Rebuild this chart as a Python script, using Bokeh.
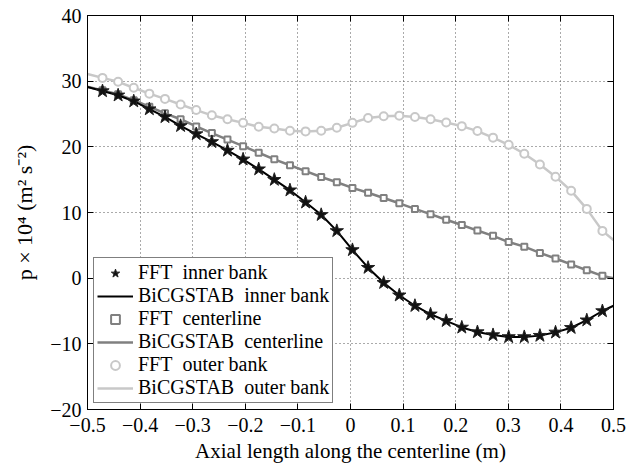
from bokeh.plotting import figure
from bokeh.models import LinearAxis, Range1d, FixedTicker, Legend, LegendItem
from bokeh.embed import file_html
from bokeh.resources import INLINE

# ---- data ----
x_fft = [-0.4715, -0.4418, -0.4121, -0.3824, -0.3527, -0.3230, -0.2933, -0.2636,
         -0.2339, -0.2042, -0.1745, -0.1448, -0.1151, -0.0854, -0.0557, -0.0260,
         0.0037, 0.0334, 0.0631, 0.0928, 0.1225, 0.1522, 0.1819, 0.2116,
         0.2413, 0.2710, 0.3007, 0.3304, 0.3601, 0.3898, 0.4195, 0.4492, 0.4789]

fft_inner = [28.5, 27.85, 26.95, 25.75, 24.55, 23.2, 21.95, 20.75, 19.45, 18.1,
             16.6, 15.0, 13.4, 11.55, 9.65, 7.2, 4.3, 1.6, -0.7, -2.6, -4.2,
             -5.5, -6.5, -7.5, -8.2, -8.65, -8.95, -8.95, -8.75, -8.25, -7.55,
             -6.4, -5.0]
fft_center = [28.6, 28.0, 27.1, 26.1, 25.1, 24.2, 23.1, 22.1, 21.1, 20.1, 19.1,
              18.1, 17.2, 16.3, 15.4, 14.6, 13.75, 13.0, 12.2, 11.4, 10.55, 9.75,
              8.9, 8.1, 7.25, 6.45, 5.5, 4.8, 3.85, 3.0, 2.1, 1.2, 0.35]
fft_outer = [30.5, 29.9, 29.0, 28.1, 27.3, 26.45, 25.6, 24.8, 24.2, 23.65, 23.05,
             22.8, 22.45, 22.35, 22.45, 22.9, 23.65, 24.4, 24.65, 24.75, 24.55,
             24.2, 23.7, 23.15, 22.4, 21.4, 20.3, 18.95, 17.3, 15.45, 13.3,
             10.55, 7.2]

x_bic = [-0.5] + x_fft + [0.5]
bic_inner = [29.1] + fft_inner + [-4.2]
bic_center = [29.15] + fft_center + [0.0]
bic_outer = [31.1] + fft_outer + [5.8]

x_ticks = [-0.5, -0.4, -0.3, -0.2, -0.1, 0.0, 0.1, 0.2, 0.3, 0.4, 0.5]
x_tick_labels = ["\u22120.5", "\u22120.4", "\u22120.3", "\u22120.2", "\u22120.1", "0",
                 "0.1", "0.2", "0.3", "0.4", "0.5"]
y_ticks = [-20, -10, 0, 10, 20, 30, 40]
y_tick_labels = ["\u221220", "\u221210", "0", "10", "20", "30", "40"]

x_label = "Axial length along the centerline (m)"
y_label = "p \u00d7 10\u2074 (m\u00b2 s\u207b\u00b2)"
legend_labels = ["FFT\u00a0 inner bank", "BiCGSTAB\u00a0 inner bank",
                 "FFT\u00a0 centerline", "BiCGSTAB\u00a0 centerline",
                 "FFT\u00a0 outer bank", "BiCGSTAB\u00a0 outer bank"]

FONT = "Liberation Serif"
C_INNER = "#000000"
C_CENTER = "#808080"
C_OUTER = "#c8c8c8"

p = figure(width=626, height=468, x_range=Range1d(-0.5, 0.5),
           y_range=Range1d(-20, 40), output_backend="svg",
           toolbar_location=None, min_border_left=87, min_border_right=13,
           min_border_top=15, min_border_bottom=59)
p.background_fill_color = "white"
p.border_fill_color = "white"
p.outline_line_color = "black"
p.outline_line_width = 1

for ax in (p.xaxis[0], p.yaxis[0]):
    ax.major_tick_in = 6
    ax.major_tick_out = 0
    ax.minor_tick_line_color = None
    ax.axis_line_color = "black"
    ax.major_tick_line_color = "black"
    ax.major_label_text_font = FONT
    ax.major_label_text_font_size = "20px"
    ax.major_label_text_color = "black"
    ax.axis_label_text_font = FONT
    ax.axis_label_text_font_style = "normal"
    ax.axis_label_text_color = "black"

p.xaxis.ticker = FixedTicker(ticks=x_ticks)
p.xaxis.major_label_overrides = dict(zip(x_ticks, x_tick_labels))
p.xaxis.major_label_standoff = 8
p.xaxis.axis_label = x_label
p.xaxis.axis_label_text_font_size = "21px"
p.xaxis.axis_label_standoff = 4
p.yaxis.ticker = FixedTicker(ticks=y_ticks)
p.yaxis.major_label_overrides = dict(zip(y_ticks, y_tick_labels))
p.yaxis.major_label_standoff = 6
p.yaxis.axis_label = y_label
p.yaxis.axis_label_text_font_size = "22px"
p.yaxis.axis_label_standoff = 10

for loc, ticks in (("above", x_ticks), ("right", y_ticks)):
    a = LinearAxis(ticker=FixedTicker(ticks=ticks))
    a.major_tick_in = 6
    a.major_tick_out = 0
    a.minor_tick_line_color = None
    a.major_label_overrides = {t: "" for t in ticks}
    a.major_label_text_font_size = "1px"
    a.major_label_standoff = 0
    a.axis_line_color = "black"
    a.major_tick_line_color = "black"
    p.add_layout(a, loc)

p.xgrid.ticker = FixedTicker(ticks=x_ticks)
p.ygrid.ticker = FixedTicker(ticks=y_ticks)
for g in (p.xgrid[0], p.ygrid[0]):
    g.grid_line_color = "#555555"
    g.grid_line_dash = "1 3"
    g.grid_line_width = 1

# outer bank
l_outer = p.line(x_bic, bic_outer, line_color=C_OUTER, line_width=2.5)
m_outer = p.scatter(x_fft, fft_outer, marker="circle", size=8,
                    line_color=C_OUTER, line_width=2, fill_color="white")
# centerline
l_center = p.line(x_bic, bic_center, line_color=C_CENTER, line_width=2.5)
m_center = p.scatter(x_fft, fft_center, marker="square", size=6,
                     line_color=C_CENTER, line_width=2, fill_color="white")
# inner bank
l_inner = p.line(x_bic, bic_inner, line_color=C_INNER, line_width=2)
m_inner = p.scatter(x_fft, fft_inner, marker="star", size=14,
                    line_color="#222222", line_width=1, fill_color="#111111")

legend = Legend(items=[
    LegendItem(label=legend_labels[0], renderers=[m_inner]),
    LegendItem(label=legend_labels[1], renderers=[l_inner]),
    LegendItem(label=legend_labels[2], renderers=[m_center]),
    LegendItem(label=legend_labels[3], renderers=[l_center]),
    LegendItem(label=legend_labels[4], renderers=[m_outer]),
    LegendItem(label=legend_labels[5], renderers=[l_outer]),
], location="bottom_left")
legend.margin = 6
legend.padding = 3
legend.spacing = 0
legend.label_height = 22
legend.glyph_height = 22
legend.glyph_width = 36
legend.label_standoff = 5
legend.label_text_font = FONT
legend.label_text_font_size = "20px"
legend.label_text_color = "black"
legend.border_line_color = "black"
legend.border_line_width = 1.5
legend.background_fill_color = "white"
legend.background_fill_alpha = 1
p.add_layout(legend)

open("out.html", "w").write(file_html(p, INLINE))
